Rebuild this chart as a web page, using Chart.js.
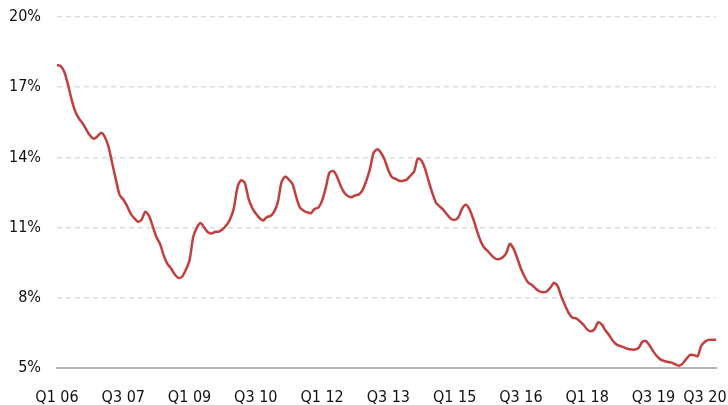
<!DOCTYPE html>
<html>
<head>
<meta charset="utf-8">
<script src="https://cdn.jsdelivr.net/npm/chart.js@4"></script>
<style>
  html, body { margin: 0; padding: 0; background: #fff; }
  #chart { display: block; }
</style>
</head>
<body>
<canvas id="chart" width="728" height="405"></canvas>
<script>
// monthly series, Jan 2006 - Dec 2020 (%)
const startYear = 2006;
const endYear = 2020;
const rate = [
    17.95, 17.9, 17.65, 17.1, 16.45, 15.95, 15.65, 15.45, 15.18, 14.93, 14.8, 14.9,
    15.05, 14.87, 14.45, 13.75, 13.05, 12.4, 12.2, 11.93, 11.6, 11.4, 11.25, 11.35,
    11.68, 11.5, 11.05, 10.6, 10.3, 9.8, 9.45, 9.25, 9.0, 8.85, 8.9, 9.2,
    9.6, 10.6, 11.0, 11.2, 11.0, 10.8, 10.75, 10.82, 10.83, 10.93, 11.1, 11.35,
    11.8, 12.7, 13.02, 12.92, 12.25, 11.85, 11.6, 11.41, 11.3, 11.45, 11.5, 11.68,
    12.1, 12.95, 13.18, 13.05, 12.85, 12.3, 11.85, 11.72, 11.65, 11.62, 11.8, 11.85,
    12.15, 12.7, 13.35, 13.42, 13.2, 12.8, 12.5, 12.35, 12.3, 12.38, 12.42, 12.6,
    13.0, 13.5, 14.2, 14.35, 14.2, 13.9, 13.45, 13.15, 13.08, 13.0, 13.0, 13.05,
    13.22, 13.4, 13.95, 13.86, 13.5, 12.95, 12.45, 12.05, 11.9, 11.75, 11.55, 11.38,
    11.33, 11.43, 11.8, 11.98, 11.8, 11.4, 10.9, 10.45, 10.15, 10.0, 9.82, 9.68,
    9.65, 9.72, 9.9, 10.31, 10.1, 9.7, 9.25, 8.9, 8.65, 8.55, 8.4, 8.28,
    8.24, 8.27, 8.43, 8.64, 8.5, 8.05, 7.68, 7.35, 7.15, 7.12, 7.0, 6.85,
    6.65, 6.57, 6.65, 6.95, 6.85, 6.6, 6.4, 6.15, 6.0, 5.94, 5.88, 5.82,
    5.79, 5.79, 5.86, 6.12, 6.15, 5.95, 5.7, 5.5, 5.36, 5.3, 5.26, 5.23,
    5.15, 5.1, 5.2, 5.4, 5.56, 5.55, 5.5, 5.95, 6.12, 6.2, 6.21, 6.21
];
// months whose quarter label is printed on the axis
const labelledMonths = [0, 18, 36, 54, 72, 90, 108, 126, 144, 162, 176];
const yTicks = [5, 8, 11, 14, 17, 20];

const months = [];
for (let y = startYear; y <= endYear; y++) {
    for (let m = 0; m < 12; m++) {
        months.push('Q' + (Math.floor(m / 3) + 1) + ' ' + String(y).slice(2));
    }
}

const axisFont = { family: "'DejaVu Sans Condensed', 'Liberation Sans', Arial, sans-serif", size: 16 };

new Chart(document.getElementById('chart'), {
    type: 'line',
    data: {
        labels: months,
        datasets: [{
            data: rate,
            borderColor: '#c0403d',
            borderWidth: 2.5,
            pointRadius: 0,
            tension: 0.25,
            fill: false
        }]
    },
    options: {
        responsive: false,
        animation: false,
        layout: { padding: { top: 17, right: 10, left: 0, bottom: 0 } },
        plugins: {
            legend: { display: false },
            tooltip: { enabled: false }
        },
        scales: {
            x: {
                grid: { display: false },
                border: { display: true, color: '#b4b4b4', width: 2 },
                ticks: {
                    autoSkip: false,
                    maxRotation: 0,
                    minRotation: 0,
                    color: '#111',
                    font: axisFont,
                    padding: 12,
                    callback: function(value, index) {
                        return labelledMonths.includes(index) ? months[index] : '';
                    }
                },
                afterFit: function(scale) { scale.height = 37; }
            },
            y: {
                min: yTicks[0],
                max: yTicks[yTicks.length - 1],
                afterBuildTicks: function(scale) {
                    scale.ticks = yTicks.map(v => ({ value: v }));
                },
                grid: {
                    color: ctx => ctx.tick && ctx.tick.value === 5 ? 'rgba(0,0,0,0)' : '#dcdcdc',
                    lineWidth: 1.5,
                    drawTicks: false
                },
                border: { display: false, dash: [5, 4] },
                ticks: {
                    color: '#111',
                    font: axisFont,
                    padding: 16,
                    callback: v => v + '%'
                },
                afterFit: function(scale) {
                    scale.width = 57;
                    scale.paddingTop = 0;
                    scale.paddingBottom = 0;
                }
            }
        }
    }
});
</script>
</body>
</html>
